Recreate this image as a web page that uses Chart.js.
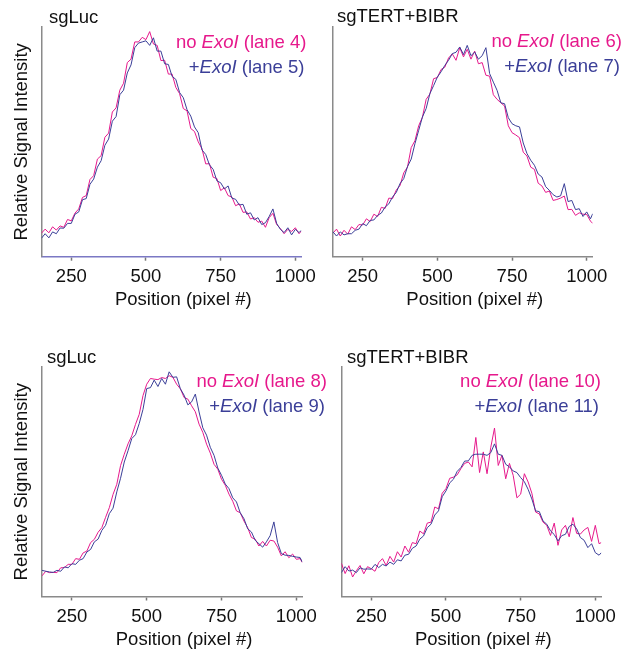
<!DOCTYPE html>
<html>
<head>
<meta charset="utf-8">
<script src="https://cdn.jsdelivr.net/npm/chart.js@4.4.1/dist/chart.umd.min.js"></script>
<style>
  html, body { margin: 0; padding: 0; background: #fff; }
  #wrap { position: relative; width: 628px; height: 650px; overflow: hidden; }
  #wrap canvas { position: absolute; }
</style>
</head>
<body>
<div id="wrap">
  <canvas id="p1"></canvas>
  <canvas id="p3"></canvas>
  <canvas id="p2"></canvas>
  <canvas id="p4"></canvas>
</div>
<script>
// x positions (pixel #) of the sampled profile points
const positions = [
  150, 162.5, 175, 187.5, 200, 212.5, 225, 237.5, 250, 262.5,
  275, 287.5, 300, 312.5, 325, 337.5, 350, 362.5, 375, 387.5,
  400, 412.5, 425, 437.5, 450, 462.5, 475, 487.5, 500, 512.5,
  525, 537.5, 550, 562.5, 575, 587.5, 600, 612.5, 625, 637.5,
  650, 662.5, 675, 687.5, 700, 712.5, 725, 737.5, 750, 762.5,
  775, 787.5, 800, 812.5, 825, 837.5, 850, 862.5, 875, 887.5,
  900, 912.5, 925, 937.5, 950, 962.5, 975, 987.5, 1000, 1012.5,
  1020
];
const xTicks = [250, 500, 750, 1000];

// relative signal intensity (0 = axis, 100 = top of frame)
const lane4 = [
  10.2, 12.0, 10.4, 13.0, 11.6, 13.4, 12.8, 16.2, 15.6, 19.0,
  20.8, 25.8, 26.6, 33.6, 35.3, 42.5, 44.0, 52.0, 53.8, 63.0,
  64.8, 72.5, 75.5, 84.5, 86.0, 93.5, 93.5, 95.5, 94.5, 98.0,
  92.6, 92.0, 85.4, 85.5, 79.5, 79.5, 73.7, 71.0, 64.5, 63.5,
  55.8, 54.5, 50.0, 47.0, 40.4, 40.5, 34.6, 34.0, 28.8, 30.0,
  26.6, 26.0, 22.2, 23.0, 19.3, 19.5, 16.4, 17.0, 15.0, 15.5,
  12.8, 17.0, 18.9, 14.0, 12.3, 10.0, 11.9, 11.0, 12.6, 10.0,
  11.2
];
const lane5 = [
  8.0, 10.0, 8.2, 10.8, 10.0, 12.5, 12.4, 14.5, 14.5, 18.5,
  19.5, 24.8, 25.3, 31.5, 33.8, 39.0, 41.8, 48.5, 51.2, 59.0,
  61.0, 70.5, 72.5, 80.0, 83.5, 91.0, 93.0, 93.5, 94.0, 92.0,
  95.3, 89.5, 89.5, 84.0, 83.7, 78.5, 77.2, 71.5, 69.2, 64.0,
  61.2, 56.5, 54.0, 46.5, 44.5, 40.0, 38.0, 33.0, 32.2, 29.5,
  30.8, 25.5, 25.0, 22.5, 22.8, 18.5, 19.1, 16.0, 17.0, 14.0,
  14.8, 17.5, 20.8, 14.5, 11.9, 10.5, 12.6, 9.5, 11.9, 10.5,
  11.5
];
const lane6 = [
  10.2, 12.0, 9.0, 11.5, 9.8, 13.0, 11.8, 14.0, 13.8, 16.5,
  15.3, 18.5, 17.5, 21.5, 21.0, 25.5, 25.3, 29.0, 31.0, 36.5,
  39.0, 47.5, 50.5, 57.0, 60.7, 68.5, 70.8, 77.5, 78.0, 81.5,
  82.5, 86.5, 88.3, 85.5, 91.0, 87.0, 90.3, 86.0, 89.5, 84.0,
  84.5, 79.0, 78.6, 70.5, 68.5, 67.0, 65.6, 57.0, 54.0, 53.0,
  51.8, 45.5, 43.8, 39.0, 38.0, 32.0, 30.8, 28.0, 28.6, 24.5,
  24.9, 25.5, 26.4, 20.5, 20.6, 18.0, 19.1, 18.5, 18.4, 15.5,
  14.5
];
const lane7 = [
  10.9, 9.0, 10.8, 9.5, 10.0, 10.0, 11.5, 12.0, 14.4, 13.5,
  15.8, 16.0, 18.0, 19.0, 21.6, 23.0, 26.0, 28.0, 31.8, 34.0,
  39.2, 42.5, 49.2, 55.0, 60.8, 64.5, 71.0, 74.5, 78.2, 80.5,
  83.3, 85.5, 88.4, 89.0, 91.3, 88.0, 92.0, 87.5, 89.1, 86.0,
  87.5, 91.0, 79.7, 76.0, 72.4, 67.0, 66.6, 60.5, 57.9, 57.0,
  56.5, 49.5, 44.9, 42.0, 39.8, 36.0, 34.7, 30.5, 28.9, 27.0,
  26.0, 26.5, 31.8, 24.0, 24.5, 20.5, 20.9, 17.5, 19.5, 16.5,
  18.7
];
const lane8 = [
  9.0, 11.0, 10.4, 10.5, 10.4, 12.5, 12.6, 14.0, 14.0, 16.5,
  16.2, 19.0, 19.8, 23.5, 24.9, 28.0, 30.0, 34.5, 38.7, 44.5,
  48.9, 57.0, 62.0, 66.5, 70.0, 75.0, 79.4, 87.5, 92.5, 95.0,
  94.7, 94.5, 95.4, 95.0, 96.2, 95.5, 92.5, 90.5, 86.7, 86.0,
  83.1, 80.5, 75.1, 71.5, 66.4, 62.5, 57.6, 55.5, 51.1, 48.5,
  44.6, 41.5, 37.3, 36.5, 32.9, 30.0, 25.7, 25.0, 22.0, 24.0,
  22.0, 24.5, 24.2, 21.5, 17.7, 19.5, 16.9, 18.5, 16.2, 16.5,
  14.8
];
const lane9 = [
  11.4, 11.0, 10.7, 10.5, 11.4, 11.0, 12.9, 12.5, 14.3, 14.0,
  15.8, 16.5, 19.4, 20.5, 23.8, 25.0, 28.8, 31.0, 36.1, 38.5,
  45.6, 51.5, 58.6, 63.5, 68.8, 70.5, 75.4, 81.5, 90.6, 91.0,
  94.3, 91.5, 95.0, 92.5, 97.9, 95.5, 95.7, 90.5, 87.7, 83.5,
  84.8, 88.2, 80.4, 73.5, 70.3, 65.0, 61.5, 56.0, 52.8, 49.0,
  47.0, 43.0, 41.2, 36.5, 33.9, 29.5, 28.1, 24.5, 23.0, 21.5,
  23.8, 26.5, 32.5, 23.5, 18.7, 18.0, 17.9, 17.5, 17.2, 17.0,
  15.0
];
const lane10 = [
  14.5, 10.0, 13.4, 8.5, 11.2, 13.5, 9.9, 13.0, 12.1, 11.0,
  14.8, 16.5, 13.5, 17.5, 15.0, 19.5, 17.2, 22.0, 19.3, 23.5,
  23.0, 28.5, 27.3, 32.0, 32.4, 39.0, 38.2, 45.0, 47.0, 51.5,
  52.0, 53.0, 55.7, 58.0, 58.6, 56.5, 69.3, 54.0, 63.0, 53.5,
  65.0, 73.4, 57.1, 61.5, 51.3, 58.0, 52.8, 43.0, 44.6, 53.5,
  49.9, 45.0, 36.8, 36.0, 32.4, 31.0, 26.6, 32.0, 22.3, 29.0,
  31.0, 26.0, 34.4, 27.5, 27.2, 29.0, 30.1, 24.0, 31.0, 23.0,
  23.5
];
const lane11 = [
  10.4, 13.0, 11.1, 11.5, 10.4, 12.5, 11.9, 12.0, 11.9, 14.0,
  12.6, 14.0, 13.3, 15.0, 14.0, 16.0, 15.5, 18.0, 18.4, 21.0,
  22.0, 25.0, 26.4, 30.0, 31.5, 35.5, 37.3, 43.5, 46.0, 49.5,
  51.1, 54.5, 56.2, 59.0, 59.1, 61.5, 62.0, 62.0, 62.0, 61.5,
  62.7, 66.5, 62.0, 61.5, 57.6, 56.5, 54.7, 54.0, 51.8, 50.0,
  46.7, 42.5, 37.3, 37.0, 32.9, 31.5, 28.6, 27.0, 24.2, 26.5,
  27.1, 30.5, 31.5, 29.5, 25.7, 24.5, 21.3, 23.0, 19.1, 18.0,
  19.1
];

const panelTitles = ['sgLuc', 'sgTERT+BIBR', 'sgLuc', 'sgTERT+BIBR'];
const laneNumbers = [[4, 5], [6, 7], [8, 9], [10, 11]];
const laneSeries = [[lane4, lane5], [lane6, lane7], [lane8, lane9], [lane10, lane11]];

const PINK = '#e6198c';
const BLUE = '#3b3f98';
const FONT = '"Liberation Sans", Arial, sans-serif';

// canvas placement and plot frame of each panel (canvas coordinates)
const panels = [
  { id: 'p1', x: 0,   y: 0,   w: 340, h: 325, l: 41.4, r: 301.3, t: 27, b: 256.7, yTitle: true,
    xAxisColor: '#7b78c4', titleX: 49, titleY: 23, legR: 306.5, legY: [48, 73], xTitleY: 305 },
  { id: 'p2', x: 314, y: 0,   w: 314, h: 325, l: 18.8, r: 278.7, t: 27, b: 256.7, yTitle: false,
    xAxisColor: '#8a8a8a', titleX: 23, titleY: 22, legR: 308, legY: [47, 72], xTitleY: 305 },
  { id: 'p3', x: 0,   y: 325, w: 340, h: 325, l: 42,   r: 302.3, t: 42, b: 271.5, yTitle: true,
    xAxisColor: '#8a8a8a', titleX: 47, titleY: 38, legR: 327, legY: [62, 87], xTitleY: 320 },
  { id: 'p4', x: 314, y: 325, w: 314, h: 325, l: 27.4, r: 287.3, t: 42, b: 271.5, yTitle: false,
    xAxisColor: '#8a8a8a', titleX: 33, titleY: 38, legR: 287, legY: [62, 87], xTitleY: 320 }
];

function drawRich(ctx, parts, right, baseline, color) {
  let total = 0;
  const widths = parts.map(p => {
    ctx.font = (p[1] ? 'italic ' : '') + '18.5px ' + FONT;
    const w = ctx.measureText(p[0]).width;
    total += w;
    return w;
  });
  let x = right - total;
  ctx.fillStyle = color;
  ctx.textAlign = 'left';
  ctx.textBaseline = 'alphabetic';
  parts.forEach((p, i) => {
    ctx.font = (p[1] ? 'italic ' : '') + '18.5px ' + FONT;
    ctx.fillText(p[0], x, baseline);
    x += widths[i];
  });
}

panels.forEach((pn, i) => {
  const canvas = document.getElementById(pn.id);
  canvas.width = pn.w;
  canvas.height = pn.h;
  canvas.style.left = pn.x + 'px';
  canvas.style.top = pn.y + 'px';
  canvas.style.width = pn.w + 'px';
  canvas.style.height = pn.h + 'px';

  const [noExo, withExo] = laneSeries[i];
  const [laneA, laneB] = laneNumbers[i];

  const textPlugin = {
    id: 'panelText' + i,
    afterDraw(chart) {
      const ctx = chart.ctx;
      const area = chart.chartArea;
      ctx.save();
      ctx.fillStyle = '#111';
      ctx.font = '18.5px ' + FONT;
      ctx.textAlign = 'left';
      ctx.textBaseline = 'alphabetic';
      ctx.fillText(panelTitles[i], pn.titleX, pn.titleY);
      ctx.textAlign = 'center';
      ctx.fillText('Position (pixel #)', (area.left + area.right) / 2 + 12, pn.xTitleY);
      drawRich(ctx, [['no ', false], ['ExoI', true], [' (lane ' + laneA + ')', false]], pn.legR, pn.legY[0], PINK);
      drawRich(ctx, [['+', false], ['ExoI', true], [' (lane ' + laneB + ')', false]], pn.legR - 2, pn.legY[1], BLUE);
      ctx.restore();
    }
  };

  new Chart(canvas, {
    type: 'line',
    data: {
      datasets: [
        {
          label: '+ExoI (lane ' + laneB + ')',
          data: positions.map((x, k) => ({ x: x, y: withExo[k] })),
          borderColor: BLUE,
          borderWidth: 1,
          pointRadius: 0,
          tension: 0,
          order: 0
        },
        {
          label: 'no ExoI (lane ' + laneA + ')',
          data: positions.map((x, k) => ({ x: x, y: noExo[k] })),
          borderColor: PINK,
          borderWidth: 1,
          pointRadius: 0,
          tension: 0,
          order: 1
        }
      ]
    },
    options: {
      responsive: false,
      animation: false,
      devicePixelRatio: 1,
      layout: {
        padding: { left: 0, top: pn.t, right: pn.w - pn.r, bottom: 0 }
      },
      plugins: {
        legend: { display: false },
        tooltip: { enabled: false }
      },
      scales: {
        x: {
          type: 'linear',
          min: 150,
          max: 1020,
          afterBuildTicks: (scale) => { scale.ticks = xTicks.map(v => ({ value: v })); },
          afterFit: (scale) => { scale.height = pn.h - pn.b; },
          ticks: {
            color: '#111',
            font: { family: FONT, size: 18.5 },
            padding: 5,
            maxRotation: 0,
            callback: (v) => String(v)
          },
          grid: { drawOnChartArea: false, drawTicks: true, tickLength: 4, tickWidth: 1.5, color: '#777' },
          border: { display: true, color: pn.xAxisColor, width: 1.5 }
        },
        y: {
          type: 'linear',
          min: 0,
          max: 100,
          afterFit: (scale) => { scale.width = pn.l; },
          ticks: { display: false },
          grid: { drawOnChartArea: false, drawTicks: false },
          border: { display: true, color: '#8a8a8a', width: 1.5 },
          title: {
            display: pn.yTitle,
            text: 'Relative Signal Intensity',
            color: '#111',
            font: { family: FONT, size: 18.5 },
            padding: { top: 11, bottom: 0 }
          }
        }
      }
    },
    plugins: [textPlugin]
  });
});
</script>
</body>
</html>
